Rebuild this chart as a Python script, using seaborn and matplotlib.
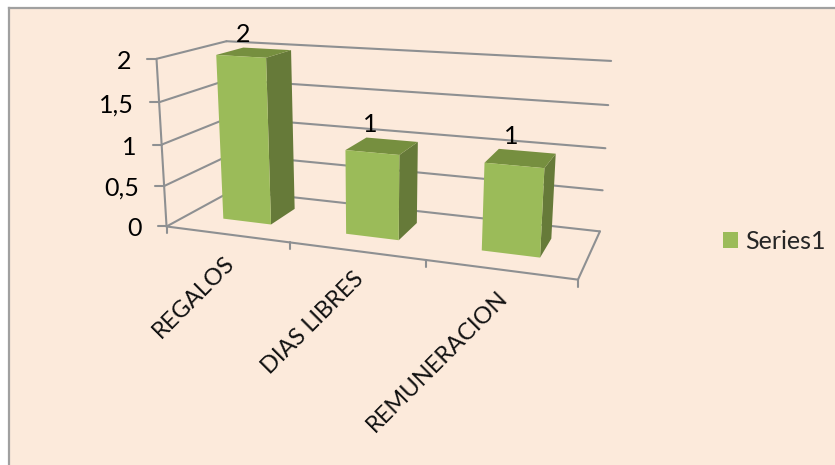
import numpy as np
import pandas as pd
import seaborn as sns
import matplotlib
matplotlib.use("Agg")
import matplotlib.pyplot as plt
from matplotlib.transforms import Transform, IdentityTransform

# Chart data
categories = ["REGALOS", "DIAS LIBRES", "REMUNERACION"]
series_values = [2, 1, 1]
series_name = "Series1"
value_ticks = [0, 0.5, 1, 1.5, 2]
value_tick_labels = ["0", "0,5", "1", "1,5", "2"]

W, H = 835, 465
PAPER = "#FCEADB"
LINE = "#8E9092"
FRONT, SIDE, TOP = "#9BBB59", "#667A39", "#768F3F"
X0, X1 = -0.5, 2.5
Z1 = 2
BAR_WIDTH = 0.4
BAR_D0, BAR_D1 = 0.31, 0.72
VALUE_LABEL_SHIFT = [-0.2, -0.17, -0.11]

# Camera fitted to the corners of the plot box: (x, depth, value) -> pixel
box_world = np.array([
    [X0, 0, 0], [X0, 1, 0], [X1, 1, 0], [X1, 0, 0],
    [X0, 0, Z1], [X0, 1, Z1], [X1, 1, Z1],
], float)
box_pixel = np.array([
    [167, 226], [232, 191], [600, 231], [578, 280],
    [156, 59], [227, 41], [611, 61],
], float)


def fit_camera(world, pixel):
    rows = []
    for (x, d, z), (u, v) in zip(world, pixel):
        rows.append([x, d, z, 1, 0, 0, 0, 0, -u * x, -u * d, -u * z, -u])
        rows.append([0, 0, 0, 0, x, d, z, 1, -v * x, -v * d, -v * z, -v])
    return np.linalg.svd(np.array(rows))[2][-1].reshape(3, 4)


CAMERA = fit_camera(box_world, box_pixel)


def project(x, d, z):
    """Pixel position of a point, measured from the top left of the figure."""
    p = CAMERA @ np.array([x, d, z, 1.0])
    return p[0] / p[2], p[1] / p[2]


class DepthPlane(Transform):
    """Maps (category position, value) on a plane of constant depth to display space."""
    input_dims = output_dims = 2
    is_separable = False
    has_inverse = False

    def __init__(self, plane_depth):
        super().__init__()
        self.plane_depth = plane_depth

    def transform_non_affine(self, values):
        values = np.asarray(values, float).reshape(-1, 2)
        out = np.array([project(x, self.plane_depth, z) for x, z in values])
        out[:, 1] = H - out[:, 1]
        return out


sns.set_theme(style="white")
plt.rcParams["font.family"] = ["Lato", "DejaVu Sans"]
FONT = 18

fig = plt.figure(figsize=(W / 100, H / 100), dpi=100, facecolor="white")
ax = fig.add_axes([9 / W, 0, 1 - 9 / W, 1 - 8 / H], facecolor=PAPER)
for name, spine in ax.spines.items():
    spine.set_visible(name in ("left", "top"))
    spine.set_color("#A0A0A0")
    spine.set_linewidth(1.6)

frame = pd.DataFrame({"category": categories, "value": series_values})
sns.barplot(data=frame, x="category", y="value", color=FRONT, saturation=1,
            width=BAR_WIDTH, label=series_name, ax=ax, zorder=5)
ax.set(xlabel="", ylabel="", xticks=[], yticks=[])

front_plane = DepthPlane(BAR_D0)
for bar in ax.patches:
    bar.set_transform(front_plane)
    bar.set_edgecolor("none")
    bar.set_clip_on(False)


def line_3d(a, b, **kw):
    pa, pb = project(*a), project(*b)
    ax.plot([pa[0], pb[0]], [H - pa[1], H - pb[1]], transform=IdentityTransform(),
            color=LINE, lw=1.5, solid_capstyle="round", clip_on=False, zorder=1, **kw)


def face(points, color):
    pix = [project(*p) for p in points]
    ax.fill([q[0] for q in pix], [H - q[1] for q in pix], color=color, lw=0,
            transform=IdentityTransform(), clip_on=False, zorder=4)


# Walls, floor and ticks of the box
for v in value_ticks:
    line_3d((X0, 0, v), (X0, 1, v))
    line_3d((X0, 1, v), (X1, 1, v))
    px, py = project(X0, 0, v)
    ax.plot([px - 9, px], [H - py, H - py], transform=IdentityTransform(),
            color=LINE, lw=1.5, clip_on=False, zorder=1)
line_3d((X0, 0, 0), (X0, 0, Z1))
line_3d((X0, 0, 0), (X1, 0, 0))
line_3d((X1, 0, 0), (X1, 1, 0))

for edge in np.arange(len(categories) + 1) + X0:
    px, py = project(edge, 0, 0)
    ax.plot([px, px], [H - py, H - py - 7], transform=IdentityTransform(),
            color=LINE, lw=1.5, clip_on=False, zorder=1)

for v, text in zip(value_ticks, value_tick_labels):
    px, py = project(X0, 0, v)
    ax.text(px - 25, H - py - 2.5, text, transform=IdentityTransform(), ha="right", va="center",
            fontsize=FONT, color="black", clip_on=False)

# Side and top faces of each column, labels above them
half = BAR_WIDTH / 2
for i, (name, v) in enumerate(zip(categories, series_values)):
    left, right = i - half, i + half
    face([(right, BAR_D0, 0), (right, BAR_D1, 0), (right, BAR_D1, v), (right, BAR_D0, v)], SIDE)
    face([(left, BAR_D0, v), (right, BAR_D0, v), (right, BAR_D1, v), (left, BAR_D1, v)], TOP)

    tx, ty = project(i + VALUE_LABEL_SHIFT[i], BAR_D1, v)
    ax.text(tx, H - ty + 13, str(v), transform=IdentityTransform(), ha="center", va="center",
            fontsize=FONT, color="black", clip_on=False, zorder=6)

    lx, ly = project(i, 0, 0)
    ax.text(lx + 4, H - ly - 25, name, transform=IdentityTransform(), rotation=45,
            rotation_mode="anchor", ha="right", va="center", fontsize=17, color="#111111",
            clip_on=False)

handles, labels = ax.get_legend_handles_labels()
ax.legend(handles, labels, loc="center left", bbox_to_anchor=(716 / W, 1 - 241 / H),
          bbox_transform=fig.transFigure, frameon=False, fontsize=FONT,
          handlelength=0.6, handleheight=0.6, handletextpad=0.28, borderpad=0.28, borderaxespad=0)

fig.savefig("out.png", dpi=100, facecolor="white")
